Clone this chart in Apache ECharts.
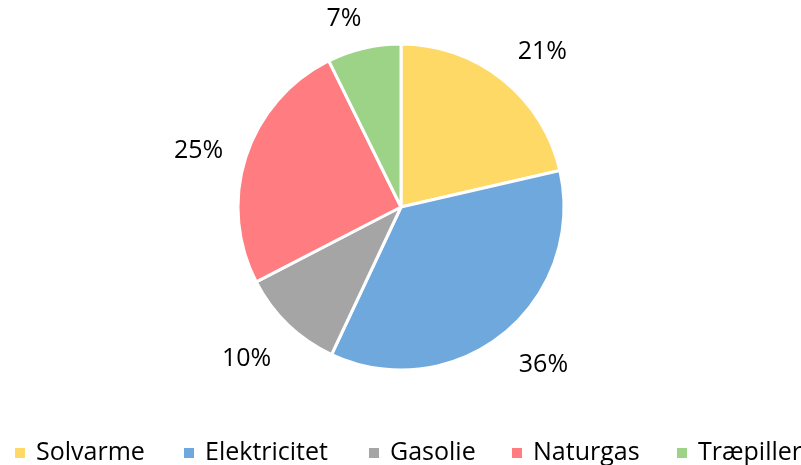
<!DOCTYPE html>
<html>
<head>
<meta charset="utf-8">
<script src="https://cdn.jsdelivr.net/npm/echarts@6/dist/echarts.min.js"></script>
<style>
html,body{margin:0;padding:0;background:#fff;}
#chart{width:801px;height:465px;}
</style>
</head>
<body>
<div id="chart"></div>
<script>
const categories = ['Solvarme', 'Elektricitet', 'Gasolie', 'Naturgas', 'Træpiller'];
const values = [21.4, 35.6, 10.4, 25.3, 7.3];
const colors = ['#FFD966', '#6FA8DC', '#A5A5A5', '#FF7C80', '#9CD386'];

const FONT = "'Open Sans', sans-serif";
const legendLeft = [13, 182, 367, 510, 675];
const labelOffsets = [[10, 10], [10, -6], [-8, 0], [-2, 10], [-9, 17]];

const chart = echarts.init(document.getElementById('chart'), null, {renderer: 'canvas'});

const pieData = categories.map((name, i) => ({
  name: name,
  value: values[i],
  itemStyle: {color: colors[i]}
}));
const labelData = categories.map((name, i) => ({
  name: name,
  value: values[i],
  label: {offset: labelOffsets[i]}
}));

const legends = categories.map((name, i) => ({
  data: [name],
  left: legendLeft[i],
  top: 438,
  padding: 0,
  icon: 'rect',
  itemWidth: 12,
  itemHeight: 12,
  selectedMode: false,
  textStyle: {
    fontFamily: FONT,
    fontSize: 25,
    color: '#000',
    padding: [0, 0, 0, 5],
    lineHeight: 30
  }
}));

chart.setOption({
  animation: false,
  backgroundColor: '#fff',
  legend: legends,
  series: [
    {
      type: 'pie',
      center: [401, 207],
      radius: [0, 163],
      startAngle: 90,
      clockwise: true,
      data: pieData,
      label: {show: false},
      labelLine: {show: false},
      itemStyle: {borderColor: '#fff', borderWidth: 3},
      emphasis: {disabled: true}
    },
    {
      type: 'pie',
      center: [401, 207],
      radius: [196, 220],
      startAngle: 90,
      clockwise: true,
      silent: true,
      data: labelData,
      itemStyle: {color: 'rgba(0,0,0,0)'},
      label: {
        show: true,
        position: 'inside',
        fontFamily: FONT,
        fontSize: 25,
        color: '#000',
        formatter: p => Math.round(p.percent) + '%'
      },
      labelLine: {show: false},
      emphasis: {disabled: true}
    }
  ]
});
</script>
</body>
</html>
